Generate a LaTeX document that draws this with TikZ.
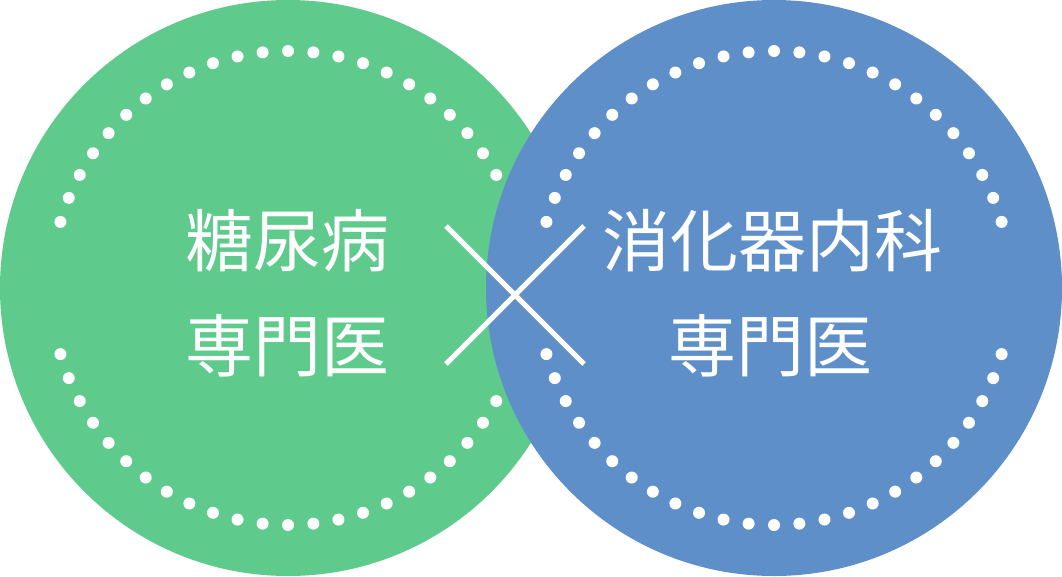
\documentclass[tikz,border=0pt]{standalone}
\usepackage{fontspec}
\usetikzlibrary{calc}
\newfontfamily\jp{Noto Sans CJK JP}
\definecolor{grn}{RGB}{94,202,139}
\definecolor{blu}{RGB}{94,143,201}
\tikzset{
  disc/.style={fill=#1, draw=none},
  dotmark/.style={fill=white, draw=none},
  label/.style={text=white, font=\jp\fontsize{68}{80}\selectfont, inner sep=0pt},
  crossline/.style={draw=white, line width=5pt, line cap=butt}
}
\begin{document}
\begin{tikzpicture}[x=1pt,y=-1pt]
\useasboundingbox (0,0) rectangle (1062,576);
% green circle
\coordinate (gc) at (288,288);
\fill[disc=grn] (gc) circle[radius=288];
\foreach \k in {-12,...,12}{
  \fill[dotmark] ($(gc)+({90+\k*6.15}:237)$) circle[radius=6];
  \fill[dotmark] ($(gc)+({270+\k*6.15}:237)$) circle[radius=6];
}
% blue circle
\coordinate (bc) at (774,288);
\fill[disc=blu] (bc) circle[radius=288];
\foreach \k in {-12,...,12}{
  \fill[dotmark] ($(bc)+({90+\k*6.15}:237)$) circle[radius=6];
  \fill[dotmark] ($(bc)+({270+\k*6.15}:237)$) circle[radius=6];
}
% texts
\node[label] (gtop) at (287,241) {糖尿病};
\node[label] (gbot) at (287,346) {専門医};
\node[label] (btop) at (772,241) {消化器内科};
\node[label] (bbot) at (770,346) {専門医};
% cross
\coordinate (c1) at (446,226);
\coordinate (c2) at (584,364);
\coordinate (c3) at (446,364);
\coordinate (c4) at (584,226);
\draw[crossline] (c1) -- (c2);
\draw[crossline] (c3) -- (c4);
\end{tikzpicture}
\end{document}
